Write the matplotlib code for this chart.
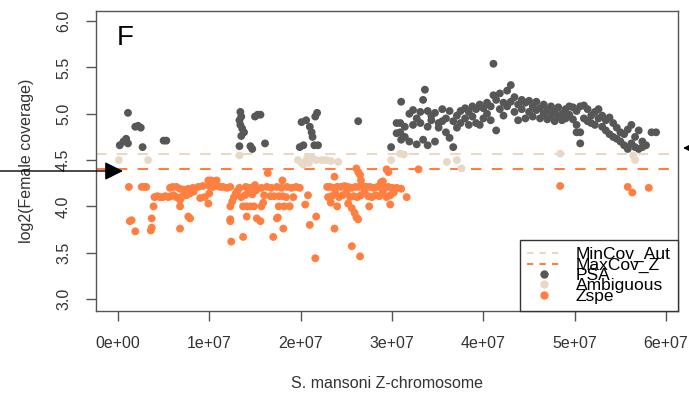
import numpy as np
import matplotlib
matplotlib.use("Agg")
import matplotlib.pyplot as plt
from matplotlib.lines import Line2D

plt.rcParams['font.family'] = ['Liberation Sans', 'DejaVu Sans']

# ==========================================
# Data (position in Mb, log2 coverage)
# ==========================================

zspe_points = [
    (1.2, 4.21), (2.6, 4.21), (2.9, 4.21), (3.1, 4.21),
    (1.3, 3.84), (1.5, 3.85), (1.9, 3.73), (3.6, 3.74), (3.7, 3.77), (3.7, 3.87), (3.9, 4.00),
    (4.0, 4.10), (4.3, 4.11), (4.6, 4.10), (4.9, 4.10), (5.2, 4.11), (5.5, 4.10), (5.8, 4.11),
    (6.1, 4.12), (6.4, 4.10), (6.7, 4.09), (7.1, 4.11), (7.5, 4.12), (7.9, 4.14), (8.3, 4.16),
    (9.0, 4.09), (9.5, 4.10), (10.0, 4.14),
    (5.7, 4.20), (6.0, 4.21), (6.4, 4.21), (6.8, 4.19), (7.2, 4.18), (7.7, 4.19), (8.2, 4.20),
    (8.8, 4.21), (9.3, 4.22), (9.9, 4.28), (10.2, 4.28), (10.5, 4.27), (10.8, 4.28), (10.0, 4.22),
    (10.4, 4.21), (10.8, 4.22), (11.2, 4.21), (11.5, 4.21), (11.9, 4.20), (12.3, 4.21),
    (6.8, 4.07), (6.8, 4.00), (6.8, 3.76), (7.7, 3.89), (7.9, 3.87), (9.9, 4.03),
    (12.3, 4.00), (12.5, 4.05), (12.7, 4.10), (12.9, 4.14), (13.1, 4.17), (13.3, 4.20),
    (12.3, 3.84), (12.3, 3.86), (12.4, 3.62), (13.7, 3.67), (14.1, 3.89),
    (13.7, 4.00), (14.1, 4.00), (14.5, 4.00), (14.9, 4.00), (13.5, 4.10), (13.9, 4.12),
    (14.3, 4.15), (14.7, 4.13), (15.1, 4.17), (14.0, 4.21), (14.5, 4.20), (15.0, 4.23), (15.2, 3.87),
    (15.6, 3.84), (15.7, 4.00), (15.9, 4.04), (15.7, 4.20), (16.0, 4.12), (16.3, 4.21), (16.4, 4.36),
    (16.7, 4.11), (16.8, 4.20), (17.1, 4.11), (17.4, 4.21), (17.6, 4.11), (17.6, 4.00), (17.9, 4.20),
    (18.0, 4.28), (18.0, 4.11), (18.2, 4.00), (18.4, 4.10), (18.5, 4.21), (18.8, 4.00), (19.0, 4.20),
    (19.2, 4.10), (19.5, 4.21), (19.9, 4.20),
    (17.0, 3.67), (17.4, 3.87), (17.5, 3.88), (18.1, 3.76),
    (20.5, 4.02), (20.8, 4.12), (21.0, 3.80), (21.7, 3.89), (21.6, 3.44), (23.7, 4.32), (23.7, 3.76),
    (22.9, 4.21), (23.2, 4.21), (23.6, 4.20), (24.0, 4.21), (24.4, 4.21), (24.8, 4.22), (25.2, 4.21),
    (25.6, 4.20), (26.0, 4.21), (26.4, 4.21), (26.8, 4.22), (27.2, 4.21), (27.6, 4.21), (28.0, 4.20),
    (28.4, 4.21), (28.8, 4.22), (29.2, 4.21), (29.6, 4.21), (30.0, 4.20), (30.5, 4.20), (31.0, 4.19),
    (23.0, 4.10), (23.4, 4.11), (23.8, 4.14), (24.2, 4.10), (24.6, 4.12), (25.0, 4.15), (25.4, 4.10),
    (25.8, 4.11), (26.2, 4.10), (26.6, 4.12), (27.0, 4.17), (27.4, 4.11), (27.8, 4.10), (28.2, 4.12),
    (28.6, 4.11), (29.0, 4.16), (29.4, 4.10), (29.8, 4.12), (30.2, 4.15), (31.6, 4.10),
    (23.3, 4.04), (24.0, 4.00), (25.2, 4.03), (25.6, 3.98), (25.9, 3.93), (26.1, 3.88), (26.3, 3.86),
    (27.5, 4.00), (29.8, 4.02), (25.6, 3.57), (26.5, 3.46),
    (26.1, 4.41), (26.3, 4.37), (26.5, 4.34), (26.6, 4.28), (28.8, 4.26), (28.9, 4.23), (29.6, 4.37),
    (29.4, 4.40), (29.0, 4.27), (32.9, 4.40),
    (48.4, 4.22), (55.8, 4.21), (56.3, 4.15), (58.1, 4.20),
]

psa_points = [
    (1.1, 5.01), (1.9, 4.86), (2.2, 4.87), (2.5, 4.85), (0.2, 4.66), (0.6, 4.70), (0.9, 4.73),
    (1.1, 4.68), (2.7, 4.64), (5.0, 4.71), (5.3, 4.71),
    (13.4, 5.02), (13.5, 4.97), (13.3, 4.93), (13.4, 4.88), (13.6, 4.84), (13.8, 4.80), (13.5, 4.76),
    (13.3, 4.65), (14.5, 4.65), (14.7, 4.62), (15.0, 4.97), (15.3, 4.99), (15.6, 4.99), (16.1, 4.68),
    (20.1, 4.91), (20.6, 4.93), (21.6, 4.97), (21.8, 5.01), (21.0, 4.86), (21.2, 4.80), (21.3, 4.75),
    (19.9, 4.64), (20.3, 4.66), (21.5, 4.66), (21.9, 4.66),
    (26.3, 4.92),
    (29.9, 4.64), (30.5, 4.90), (30.5, 4.79), (30.9, 4.90), (30.9, 4.80), (31.0, 5.13), (31.0, 4.72),
    (31.4, 4.75), (31.4, 4.86), (31.9, 5.00), (31.9, 4.70), (32.3, 5.04), (32.3, 4.88), (32.7, 4.95),
    (32.7, 4.67), (33.1, 5.02), (33.1, 4.90), (33.4, 5.15), (33.4, 4.72), (33.6, 5.26), (33.9, 5.03),
    (33.9, 4.86), (33.9, 4.66), (34.3, 4.98), (34.3, 4.93), (34.7, 5.01), (34.7, 4.70), (35.1, 4.90),
    (35.1, 4.85), (35.5, 5.05), (35.5, 4.92), (35.9, 4.95), (35.9, 4.80), (36.3, 5.03), (36.3, 4.74),
    (36.7, 4.92), (36.7, 4.64), (37.1, 4.98), (37.1, 4.85), (37.5, 5.03), (37.5, 4.90), (38.0, 5.06),
    (38.0, 4.95), (38.4, 5.02), (38.4, 4.88), (38.8, 5.08), (38.8, 4.97), (39.2, 5.05), (39.2, 4.90),
    (39.6, 5.10), (39.6, 4.88), (40.0, 5.06), (40.0, 4.95), (40.4, 5.12), (40.4, 5.00), (40.8, 5.08),
    (40.8, 4.93), (41.1, 5.54), (41.1, 5.20), (41.4, 5.15), (41.4, 4.82), (41.8, 5.22), (41.8, 5.05),
    (42.2, 5.12), (42.2, 4.98), (42.6, 5.25), (42.6, 5.08), (43.0, 5.31), (43.0, 5.13), (43.4, 5.18),
    (43.4, 5.02), (43.8, 5.10), (43.8, 4.93), (44.2, 5.15), (44.2, 5.05), (44.6, 5.12), (44.6, 4.95),
    (45.0, 5.14), (45.0, 5.02), (45.4, 5.08), (45.4, 4.97), (45.8, 5.13), (45.8, 5.04), (46.2, 5.06),
    (46.2, 4.95), (46.6, 5.10), (46.6, 5.00), (47.0, 5.04), (47.0, 4.94), (47.4, 5.08), (47.4, 4.98),
    (47.8, 5.02), (47.8, 4.92), (48.2, 5.07), (48.2, 4.97), (48.6, 5.00), (48.6, 4.93), (49.0, 5.05),
    (49.0, 4.95), (49.4, 5.08), (49.4, 4.99), (49.8, 5.07), (49.8, 4.94), (50.2, 5.03), (50.2, 4.88),
    (50.2, 4.80), (50.6, 5.08), (50.6, 4.80), (50.6, 4.68), (51.0, 5.09), (51.0, 4.95), (51.4, 5.05),
    (51.4, 4.92), (51.8, 4.98), (51.8, 4.90), (52.2, 5.02), (52.2, 4.88), (52.6, 5.05), (52.6, 4.95),
    (53.0, 4.98), (53.0, 4.86), (53.4, 4.93), (53.4, 4.82), (53.8, 4.96), (53.8, 4.78), (54.2, 4.90),
    (54.2, 4.75), (54.6, 4.85), (54.6, 4.73), (55.0, 4.80), (55.0, 4.70), (55.4, 4.78), (55.4, 4.66),
    (55.8, 4.83), (55.8, 4.62), (56.2, 4.88), (56.2, 4.68), (56.6, 4.75), (56.6, 4.64), (57.0, 4.82),
    (57.0, 4.62), (57.4, 4.70), (57.4, 4.64), (57.8, 4.66), (58.4, 4.80), (58.9, 4.80),
]

ambiguous_points = [
    (0.1, 4.50), (3.3, 4.50), (13.3, 4.55), (19.7, 4.50), (20.1, 4.47), (20.3, 4.45), (20.7, 4.52),
    (20.9, 4.47), (21.2, 4.53), (21.7, 4.50), (22.3, 4.50), (22.8, 4.50), (23.3, 4.49), (24.1, 4.48),
    (29.9, 4.50), (30.9, 4.57), (31.3, 4.56), (36.0, 4.48), (37.1, 4.50), (37.6, 4.41), (48.4, 4.57),
    (56.4, 4.55), (56.6, 4.50),
]

min_cov_aut = 4.57
max_cov_z = 4.40

x_ticks = [0, 1e7, 2e7, 3e7, 4e7, 5e7, 6e7]
x_tick_labels = ["0e+00", "1e+07", "2e+07", "3e+07", "4e+07", "5e+07", "6e+07"]
y_ticks = [3.0, 3.5, 4.0, 4.5, 5.0, 5.5, 6.0]
y_tick_labels = ["3.0", "3.5", "4.0", "4.5", "5.0", "5.5", "6.0"]

# colours
col_psa = "#575757"
col_amb = "#E8D8C6"
col_zspe = "#FF7F40"
col_box = "#555555"


def split(points):
    pos, cov = zip(*points)
    return np.array(pos) * 1e6, np.array(cov)


# ==========================================
# Plot
# ==========================================

fig = plt.figure(figsize=(6.89, 3.95), dpi=100)
ax = fig.add_axes([96 / 689, 84 / 395, 582 / 689, 300 / 395])

ax.axhline(min_cov_aut, color=col_amb, lw=1.5, dashes=(5, 5), zorder=1)
ax.axhline(max_cov_z, color=col_zspe, lw=1.5, dashes=(5, 5), zorder=1)

ms = 32
for pts, col in [(psa_points, col_psa), (ambiguous_points, col_amb), (zspe_points, col_zspe)]:
    px, py = split(pts)
    ax.scatter(px, py, s=ms, color=col, edgecolors="none", zorder=3)

ax.set_xlim(-2.4e6, 61.3e6)
ax.set_ylim(2.87, 6.11)

ax.set_xticks(x_ticks)
ax.set_xticklabels(x_tick_labels)
ax.set_yticks(y_ticks)
ax.set_yticklabels(y_tick_labels, rotation=90, va="center")
ax.tick_params(direction="out", length=7, width=1, color=col_box,
               labelcolor="#333333", labelsize=11.5, pad=11)

for sp in ax.spines.values():
    sp.set_color(col_box)
    sp.set_linewidth(1)

ax.set_xlabel("S. mansoni Z-chromosome", fontsize=11.5, color="#333333", labelpad=18)
ax.set_ylabel("log2(Female coverage)", fontsize=11.5, color="#333333", labelpad=16)

ax.text(0.036, 0.887, "F", transform=ax.transAxes, fontsize=20, color="black")

# legend (R-style, cramped)
handles = [
    Line2D([], [], color=col_amb, lw=1.5, dashes=(3, 3)),
    Line2D([], [], color=col_zspe, lw=1.5, dashes=(3, 3)),
    Line2D([], [], ls="none", marker="o", ms=6, mfc=col_psa, mec="none"),
    Line2D([], [], ls="none", marker="o", ms=6, mfc=col_amb, mec="none"),
    Line2D([], [], ls="none", marker="o", ms=6, mfc=col_zspe, mec="none"),
]
labels = ["MinCov_Aut", "MaxCov_Z", "PSA", "Ambiguous", "Zspe"]
leg = ax.legend(handles, labels, loc="lower right", bbox_to_anchor=(1, 0),
                borderaxespad=0, fontsize=12.5, labelspacing=-0.28,
                handlelength=1.9, handletextpad=0.9, borderpad=0.42,
                fancybox=False, framealpha=1)
leg.get_frame().set_edgecolor("#333333")
leg.get_frame().set_linewidth(1)
leg.set_zorder(5)

# arrows marking the thresholds, outside the plot box
ax.annotate("", xy=(123, 224), xycoords="figure pixels",
            xytext=(0, 224), textcoords="figure pixels",
            arrowprops=dict(arrowstyle="-|>,head_length=0.7,head_width=0.35",
                            color="black", lw=1, mutation_scale=16,
                            shrinkA=0, shrinkB=0),
            annotation_clip=False)
ax.annotate("", xy=(683, 247), xycoords="figure pixels",
            xytext=(720, 247), textcoords="figure pixels",
            arrowprops=dict(arrowstyle="-|>,head_length=0.7,head_width=0.35",
                            color="black", lw=1, mutation_scale=16,
                            shrinkA=0, shrinkB=0),
            annotation_clip=False)

fig.savefig("out.png", dpi=100)
